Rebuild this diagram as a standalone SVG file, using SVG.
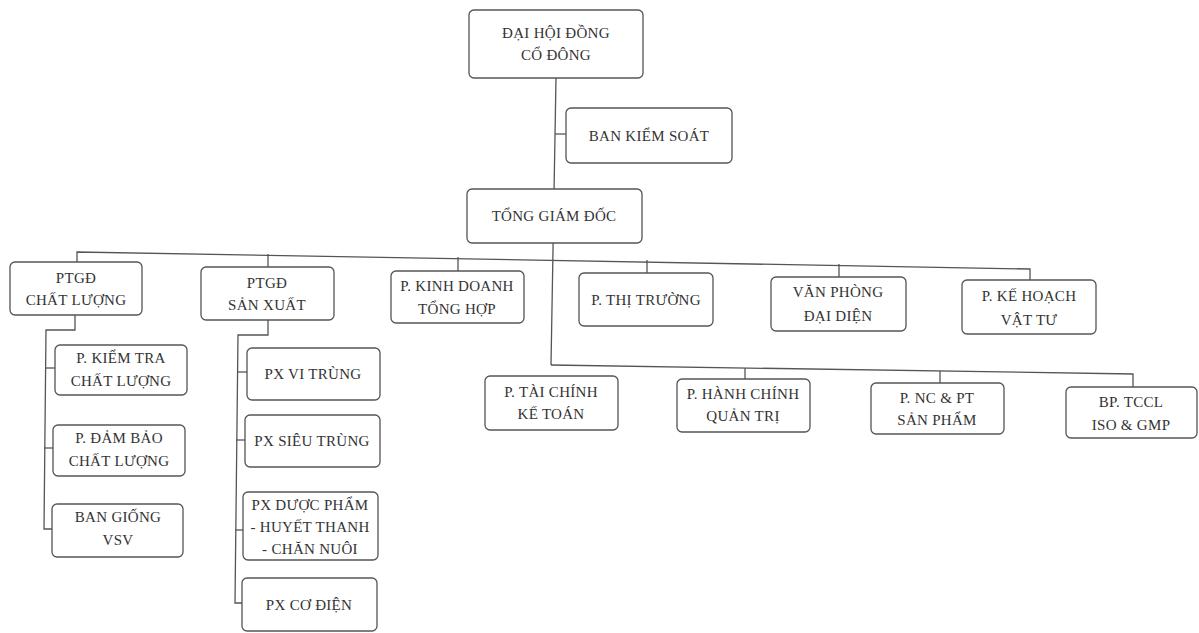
<svg xmlns="http://www.w3.org/2000/svg" width="1199" height="633" viewBox="0 0 1199 633">
<style>
.box{fill:#ffffff;stroke:#555555;stroke-width:1.3}
.ln{fill:none;stroke:#555555;stroke-width:1.3}
text{font-family:"Liberation Serif","Times New Roman",serif;font-size:15px;fill:#333333;text-anchor:middle;letter-spacing:0.3px}
</style>
<rect width="1199" height="633" fill="#ffffff"/>
<g id="connectors">
<path class="ln" d="M556 78 L551 365"/>
<path class="ln" d="M555 134 L566 134"/>
<path class="ln" d="M77 262 L77 252 L1030 269 L1030 280"/>
<path class="ln" d="M268 254 L268 267"/>
<path class="ln" d="M458 257 L458 271"/>
<path class="ln" d="M647 260 L647 273"/>
<path class="ln" d="M839 264 L839 277"/>
<path class="ln" d="M75 315 L75 330 L46 330 L44 529 L52 529"/>
<path class="ln" d="M45 368 L55 368"/>
<path class="ln" d="M44 448 L53 448"/>
<path class="ln" d="M268 320 L268 335 L238 335 L235 603 L242 603"/>
<path class="ln" d="M237 372 L247 372"/>
<path class="ln" d="M236 440 L245 440"/>
<path class="ln" d="M235 530 L243 530"/>
<path class="ln" d="M551 365 L1133 374 L1133 387"/>
<path class="ln" d="M745 368 L745 379"/>
<path class="ln" d="M940 371 L940 383"/>
</g>
<g id="dhdcd"><rect class="box" x="469" y="10" width="174" height="68" rx="5"/><text x="556" y="38">ĐẠI HỘI ĐỒNG</text><text x="556" y="60">CỔ ĐÔNG</text></g>
<g id="bks"><rect class="box" x="566" y="108" width="166" height="55" rx="5"/><text x="649" y="141">BAN KIỂM SOÁT</text></g>
<g id="tgd"><rect class="box" x="467" y="189" width="175" height="54" rx="5"/><text x="554" y="221">TỔNG GIÁM ĐỐC</text></g>
<g id="ptgd-cl"><rect class="box" x="10" y="262" width="132" height="53" rx="5"/><text x="76" y="283">PTGĐ</text><text x="76" y="305">CHẤT LƯỢNG</text></g>
<g id="ptgd-sx"><rect class="box" x="201" y="267" width="133" height="53" rx="5"/><text x="267" y="288">PTGĐ</text><text x="267" y="310">SẢN XUẤT</text></g>
<g id="kinh-doanh"><rect class="box" x="391" y="271" width="133" height="52" rx="5"/><text x="457" y="291">P. KINH DOANH</text><text x="457" y="314">TỔNG HỢP</text></g>
<g id="thi-truong"><rect class="box" x="579" y="273" width="134" height="53" rx="5"/><text x="646" y="305">P. THỊ TRƯỜNG</text></g>
<g id="van-phong"><rect class="box" x="771" y="277" width="135" height="54" rx="5"/><text x="838" y="297">VĂN PHÒNG</text><text x="838" y="321">ĐẠI DIỆN</text></g>
<g id="ke-hoach"><rect class="box" x="962" y="280" width="134" height="54" rx="5"/><text x="1029" y="301">P. KẾ HOẠCH</text><text x="1029" y="325">VẬT TƯ</text></g>
<g id="kiem-tra"><rect class="box" x="55" y="345" width="132" height="50" rx="5"/><text x="121" y="363">P. KIỂM TRA</text><text x="121" y="386">CHẤT LƯỢNG</text></g>
<g id="dam-bao"><rect class="box" x="53" y="425" width="132" height="51" rx="5"/><text x="119" y="443">P. ĐẢM BẢO</text><text x="119" y="466">CHẤT LƯỢNG</text></g>
<g id="ban-giong"><rect class="box" x="52" y="504" width="131" height="53" rx="5"/><text x="118" y="522">BAN GIỐNG</text><text x="118" y="545">VSV</text></g>
<g id="px-vi-trung"><rect class="box" x="247" y="348" width="133" height="52" rx="5"/><text x="313" y="379">PX VI TRÙNG</text></g>
<g id="px-sieu-trung"><rect class="box" x="245" y="415" width="135" height="52" rx="5"/><text x="312" y="446">PX SIÊU TRÙNG</text></g>
<g id="px-duoc-pham"><rect class="box" x="243" y="492" width="135" height="68" rx="5"/><text x="310" y="510">PX DƯỢC PHẨM</text><text x="310" y="532">- HUYẾT THANH</text><text x="310" y="554">- CHĂN NUÔI</text></g>
<g id="px-co-dien"><rect class="box" x="242" y="578" width="135" height="53" rx="5"/><text x="309" y="610">PX CƠ ĐIỆN</text></g>
<g id="tai-chinh"><rect class="box" x="485" y="376" width="133" height="54" rx="5"/><text x="551" y="397">P. TÀI CHÍNH</text><text x="551" y="419">KẾ TOÁN</text></g>
<g id="hanh-chinh"><rect class="box" x="677" y="379" width="133" height="53" rx="5"/><text x="743" y="399">P. HÀNH CHÍNH</text><text x="743" y="421">QUẢN TRỊ</text></g>
<g id="nc-pt"><rect class="box" x="871" y="383" width="133" height="51" rx="5"/><text x="937" y="403">P. NC &amp; PT</text><text x="937" y="425">SẢN PHẨM</text></g>
<g id="tccl"><rect class="box" x="1066" y="387" width="131" height="51" rx="5"/><text x="1131" y="407">BP. TCCL</text><text x="1131" y="430">ISO &amp; GMP</text></g>
</svg>
